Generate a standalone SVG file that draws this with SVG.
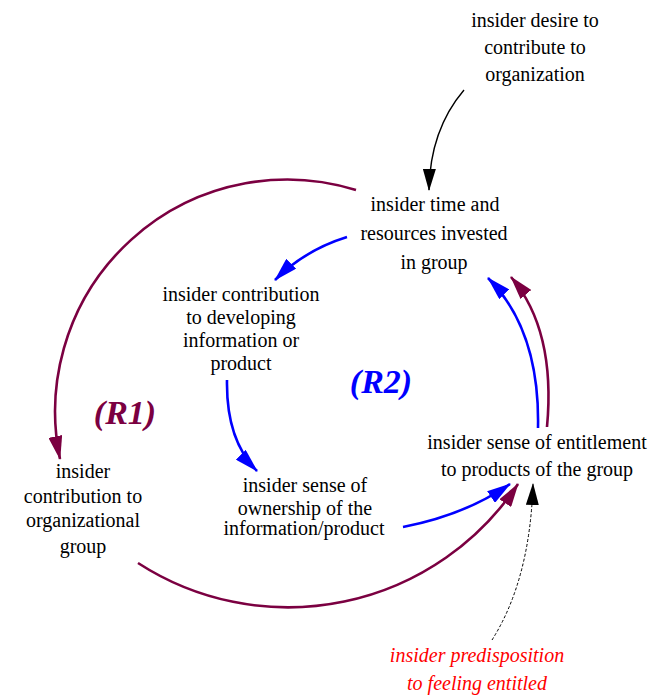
<svg xmlns="http://www.w3.org/2000/svg" width="660" height="696" viewBox="0 0 660 696">
<style>
text{font-family:'Liberation Serif','Times New Roman',Tinos,'DejaVu Serif',serif;font-size:20px;fill:#000;text-anchor:middle}
.lbl{font-weight:bold;font-style:italic;font-size:34px}
.red{fill:#ff0000;font-style:italic}
.p{fill:none;stroke:#7b0041;stroke-width:2.6}
.b{fill:none;stroke:#0000ff;stroke-width:2.6}
.k{fill:none;stroke:#000;stroke-width:1.4}
.d{fill:none;stroke:#000;stroke-width:1;stroke-dasharray:3 2}
</style>
<defs>
<marker id="ap" markerUnits="userSpaceOnUse" markerWidth="24" markerHeight="14" refX="23" refY="7" orient="auto"><path d="M0,0 L24,7 L0,14 z" fill="#7b0041"/></marker>
<marker id="ab" markerUnits="userSpaceOnUse" markerWidth="24" markerHeight="14" refX="23" refY="7" orient="auto"><path d="M0,0 L24,7 L0,14 z" fill="#0000ff"/></marker>
<marker id="ak" markerUnits="userSpaceOnUse" markerWidth="22" markerHeight="13" refX="21" refY="6.5" orient="auto"><path d="M0,0 L22,6.5 L0,13 z" fill="#000"/></marker>
</defs>
<g id="connectors">
<path class="k" d="M464,90 Q430,130 429,190" marker-end="url(#ak)"/>
<path class="p" d="M356,190 A232 232 0 0 0 60,459" marker-end="url(#ap)"/>
<path class="b" d="M347,237 Q305,250 275,280" marker-end="url(#ab)"/>
<path class="b" d="M227,380 Q226,440 257,471" marker-end="url(#ab)"/>
<path class="b" d="M403,527 Q465,515 510,484" marker-end="url(#ab)"/>
<path class="p" d="M138,563 A276 276 0 0 0 518,484" marker-end="url(#ap)"/>
<path class="b" d="M538,428 Q540,330 488,278" marker-end="url(#ab)"/>
<path class="p" d="M547,427 Q556,330 511,277" marker-end="url(#ap)"/>
<path class="d" d="M492,640 Q530,580 533,484" marker-end="url(#ak)"/>
</g>
<g id="desire" font-family="Liberation Serif, serif"><text x="535" y="27">insider desire to</text><text x="535" y="54">contribute to</text><text x="535" y="81">organization</text></g>
<g id="time"><text x="435" y="211">insider time and</text><text x="434" y="240">resources invested</text><text x="434" y="269">in group</text></g>
<g id="devcontrib"><text x="241" y="301">insider contribution</text><text x="241" y="324">to developing</text><text x="241" y="347">information or</text><text x="241" y="370">product</text></g>
<g id="ownership"><text x="305" y="492">insider sense of</text><text x="305" y="515">ownership of the</text><text x="304" y="535">information/product</text></g>
<g id="entitlement"><text x="537" y="449">insider sense of entitlement</text><text x="537" y="476">to products of the group</text></g>
<g id="orgcontrib"><text x="83" y="478">insider</text><text x="83" y="503">contribution to</text><text x="83" y="527">organizational</text><text x="83" y="553">group</text></g>
<g id="predisposition"><text class="red" x="477" y="662">insider predisposition</text><text class="red" x="477" y="690">to feeling entitled</text></g>
<g id="R1"><text class="lbl" x="125" y="424" style="fill:#7b0041">(R1)</text></g>
<g id="R2"><text class="lbl" x="381" y="393" style="fill:#0000ff">(R2)</text></g>
</svg>
